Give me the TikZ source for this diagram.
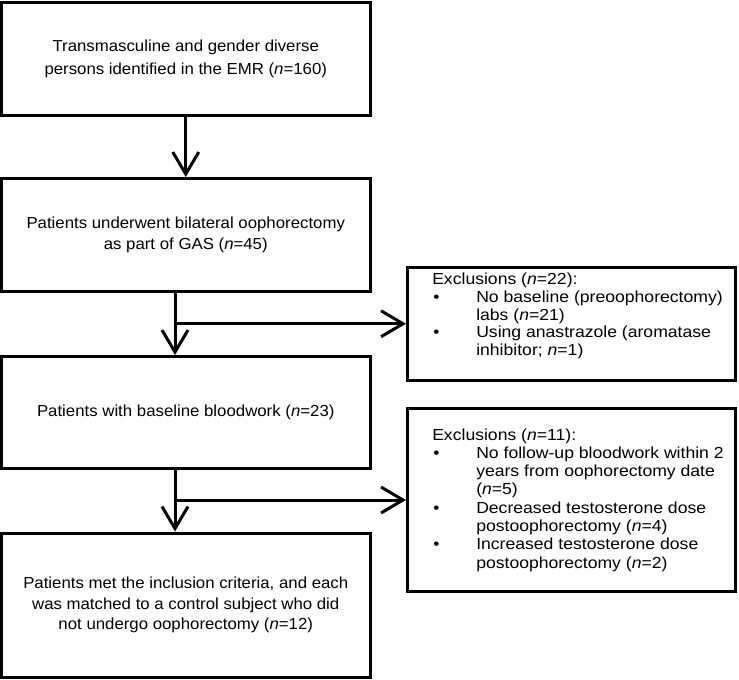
\documentclass[tikz,border=0pt]{standalone}
\usepackage{fontspec}
\setmainfont[FakeStretch=1.05]{Liberation Sans}
\newfontfamily\exfam[FakeStretch=1.1]{Liberation Sans}
\usetikzlibrary{arrows.meta,calc}
\newcommand{\nn}{\textit{n}}
\newcommand{\bul}{\makebox[44pt][l]{\hspace{1pt}•}}
\newcommand{\ind}{\hspace*{44pt}}
\begin{document}
\begin{tikzpicture}[x=1pt,y=-1pt,
  box/.style={draw, line width=3pt, inner sep=0pt, align=center, minimum width=368.5pt},
  exbox/.style={draw, line width=3pt, inner xsep=0pt, inner ysep=0pt, minimum width=327.5pt},
  arr/.style={line width=3pt, -{Straight Barb[length=22pt,width=26pt,line width=3pt]}},
  mainfont/.style={font=\fontsize{16}{#1}\selectfont},
  exfont/.style={font=\exfam\fontsize{16}{#1}\selectfont}
]
\useasboundingbox (0,0) rectangle (739,680);

\node[box, mainfont=23pt, minimum height=112.5pt] (b1) at (185.75,58.75)
  {Transmasculine and gender diverse\\persons identified in the EMR (\nn=160)};
\node[box, mainfont=21.5pt, minimum height=113pt] (b2) at (185.75,235)
  {Patients underwent bilateral oophorectomy\\as part of GAS (\nn=45)};
\node[box, mainfont=21.5pt, minimum height=111.5pt] (b3) at (185.75,412.25)
  {Patients with baseline bloodwork (\nn=23)};
\node[box, mainfont=20.5pt, minimum height=144pt] (b4) at (185.75,605)
  {Patients met the inclusion criteria, and each\\was matched to a control subject who did\\not undergo oophorectomy (\nn=12)};

\node[exbox, exfont=17.6pt, minimum height=112.5pt] (e1) at (571.25,323.75)
  {\hspace*{22pt}\parbox[c][107pt][t]{300pt}{\raggedright
   \vspace*{3pt}Exclusions (\nn=22):\\
   \bul No baseline (preoophorectomy)\\
   \ind labs (\nn=21)\\
   \bul Using anastrazole (aromatase\\
   \ind inhibitor; \nn=1)}};
\node[exbox, exfont=18.3pt, minimum height=183pt] (e2) at (571.25,500)
  {\hspace*{22pt}\parbox[c]{300pt}{\raggedright
   Exclusions (\nn=11):\\
   \bul No follow-up bloodwork within 2\\
   \ind years from oophorectomy date\\
   \ind (\nn=5)\\
   \bul Decreased testosterone dose\\
   \ind postoophorectomy (\nn=4)\\
   \bul Increased testosterone dose\\
   \ind postoophorectomy (\nn=2)}};

\coordinate (ax) at (175,0);
\draw[arr] (b1.south) -- (b2.north);
\draw[arr] (b2.south -| ax) -- (b3.north -| ax);
\draw[arr] (ax |- e1.west) -- (e1.west);
\draw[arr] (b3.south -| ax) -- (b4.north -| ax);
\draw[arr] (ax |- e2.west) -- (e2.west);
\end{tikzpicture}
\end{document}
